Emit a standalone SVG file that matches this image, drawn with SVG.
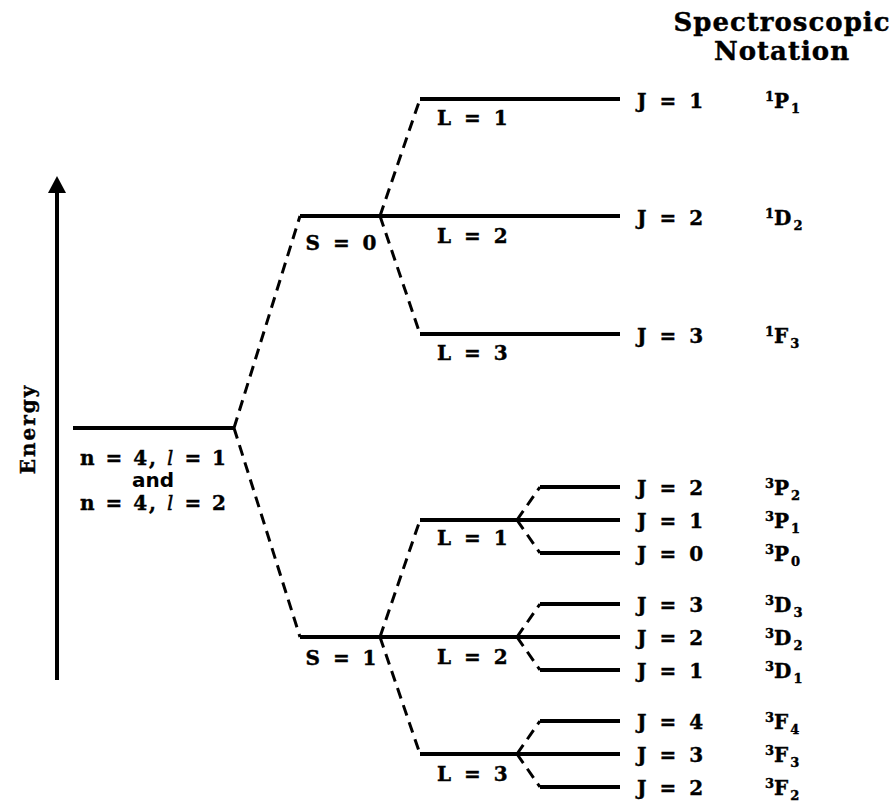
<svg xmlns="http://www.w3.org/2000/svg" width="896" height="802" viewBox="0 0 896 802">
  <style>
    .lvl { stroke: #000; stroke-width: 4; fill: none; }
    .dash { stroke: #000; stroke-width: 3; fill: none; stroke-dasharray: 11 7; }
    .t { font-family: "DejaVu Serif", "Liberation Serif", serif; font-weight: bold; font-size: 20px; letter-spacing: 2px; word-spacing: 2px; fill: #000; stroke: #000; stroke-width: 0.4; }
    .s { font-family: "DejaVu Sans", "Liberation Sans", sans-serif; font-weight: bold; font-size: 20px; fill: #000; }
    .hd { font-size: 26px; letter-spacing: 1px; }
    .cfg { word-spacing: 0; }
    .sub { font-size: 13px; letter-spacing: 0; }
  </style>

  <rect width="896" height="802" fill="#fff"/>

  <!-- energy axis -->
  <g id="energy-axis">
    <line x1="57" y1="680" x2="57" y2="190" stroke="#000" stroke-width="4"/>
    <path d="M48,193 L57,176 L66,193 Z" fill="#000"/>
    <text class="t" transform="translate(35,429) rotate(-90)" text-anchor="middle" font-size="24px">Energy</text>
  </g>

  <!-- header -->
  <g id="header">
    <text class="t hd" x="782" y="31" text-anchor="middle">Spectroscopic</text>
    <text class="t hd" x="782" y="60" text-anchor="middle">Notation</text>
  </g>

  <!-- connectors -->
  <g id="connectors">
    <path class="dash" d="M234,428 L300,216 M234,428 L300,637"/>
    <path class="dash" d="M380,216 L420,99 M380,216 L420,334"/>
    <path class="dash" d="M380,637 L420,520 M380,637 L420,754"/>
    <path class="dash" d="M517,520 L540,487 M517,520 L540,553"/>
    <path class="dash" d="M517,637 L540,604 M517,637 L540,670"/>
    <path class="dash" d="M517,754 L540,721 M517,754 L540,787"/>
  </g>

  <!-- configuration level -->
  <g id="config">
    <line class="lvl" x1="73" y1="428" x2="234" y2="428"/>
    <text class="t cfg" x="154" y="465" text-anchor="middle">n = 4, <tspan font-style="italic" font-weight="normal">l</tspan> = 1</text>
    <text class="s" x="153" y="487" text-anchor="middle">and</text>
    <text class="t cfg" x="154" y="510" text-anchor="middle">n = 4, <tspan font-style="italic" font-weight="normal">l</tspan> = 2</text>
  </g>

  <!-- S = 0 branch -->
  <g id="s0">
    <line class="lvl" x1="300" y1="216" x2="380" y2="216"/>
    <text class="t" x="342" y="250" text-anchor="middle">S = 0</text>
  </g>
  <g id="s0-l1">
    <line class="lvl" x1="420" y1="99" x2="620" y2="99"/>
    <text class="t" x="437" y="125">L = 1</text>
    <text class="t" x="637" y="108">J = 1</text>
    <text class="t" x="765" y="108"><tspan class="sub" dy="-7">1</tspan><tspan dy="7">P</tspan><tspan class="sub" dy="5">1</tspan></text>
  </g>
  <g id="s0-l2">
    <line class="lvl" x1="380" y1="216" x2="620" y2="216"/>
    <text class="t" x="437" y="243">L = 2</text>
    <text class="t" x="637" y="225">J = 2</text>
    <text class="t" x="765" y="225"><tspan class="sub" dy="-7">1</tspan><tspan dy="7">D</tspan><tspan class="sub" dy="5">2</tspan></text>
  </g>
  <g id="s0-l3">
    <line class="lvl" x1="420" y1="334" x2="620" y2="334"/>
    <text class="t" x="437" y="360">L = 3</text>
    <text class="t" x="637" y="343">J = 3</text>
    <text class="t" x="765" y="343"><tspan class="sub" dy="-7">1</tspan><tspan dy="7">F</tspan><tspan class="sub" dy="5">3</tspan></text>
  </g>

  <!-- S = 1 branch -->
  <g id="s1">
    <line class="lvl" x1="300" y1="637" x2="380" y2="637"/>
    <text class="t" x="342" y="665" text-anchor="middle">S = 1</text>
  </g>
  <g id="s1-l1">
    <line class="lvl" x1="420" y1="520" x2="517" y2="520"/>
    <text class="t" x="437" y="545">L = 1</text>
  </g>
  <g id="s1-l2">
    <line class="lvl" x1="380" y1="637" x2="517" y2="637"/>
    <text class="t" x="437" y="664">L = 2</text>
  </g>
  <g id="s1-l3">
    <line class="lvl" x1="420" y1="754" x2="517" y2="754"/>
    <text class="t" x="437" y="781">L = 3</text>
  </g>

  <!-- J levels of S = 1 -->
  <g id="p2">
    <line class="lvl" x1="540" y1="487" x2="620" y2="487"/>
    <text class="t" x="637" y="495">J = 2</text>
    <text class="t" x="765" y="495"><tspan class="sub" dy="-7">3</tspan><tspan dy="7">P</tspan><tspan class="sub" dy="5">2</tspan></text>
  </g>
  <g id="p1">
    <line class="lvl" x1="517" y1="520" x2="620" y2="520"/>
    <text class="t" x="637" y="528">J = 1</text>
    <text class="t" x="765" y="528"><tspan class="sub" dy="-7">3</tspan><tspan dy="7">P</tspan><tspan class="sub" dy="5">1</tspan></text>
  </g>
  <g id="p0">
    <line class="lvl" x1="540" y1="553" x2="620" y2="553"/>
    <text class="t" x="637" y="561">J = 0</text>
    <text class="t" x="765" y="561"><tspan class="sub" dy="-7">3</tspan><tspan dy="7">P</tspan><tspan class="sub" dy="5">0</tspan></text>
  </g>
  <g id="d3">
    <line class="lvl" x1="540" y1="604" x2="620" y2="604"/>
    <text class="t" x="637" y="612">J = 3</text>
    <text class="t" x="765" y="612"><tspan class="sub" dy="-7">3</tspan><tspan dy="7">D</tspan><tspan class="sub" dy="5">3</tspan></text>
  </g>
  <g id="d2">
    <line class="lvl" x1="517" y1="637" x2="620" y2="637"/>
    <text class="t" x="637" y="645">J = 2</text>
    <text class="t" x="765" y="645"><tspan class="sub" dy="-7">3</tspan><tspan dy="7">D</tspan><tspan class="sub" dy="5">2</tspan></text>
  </g>
  <g id="d1">
    <line class="lvl" x1="540" y1="670" x2="620" y2="670"/>
    <text class="t" x="637" y="678">J = 1</text>
    <text class="t" x="765" y="678"><tspan class="sub" dy="-7">3</tspan><tspan dy="7">D</tspan><tspan class="sub" dy="5">1</tspan></text>
  </g>
  <g id="f4">
    <line class="lvl" x1="540" y1="721" x2="620" y2="721"/>
    <text class="t" x="637" y="729">J = 4</text>
    <text class="t" x="765" y="729"><tspan class="sub" dy="-7">3</tspan><tspan dy="7">F</tspan><tspan class="sub" dy="5">4</tspan></text>
  </g>
  <g id="f3">
    <line class="lvl" x1="517" y1="754" x2="620" y2="754"/>
    <text class="t" x="637" y="762">J = 3</text>
    <text class="t" x="765" y="762"><tspan class="sub" dy="-7">3</tspan><tspan dy="7">F</tspan><tspan class="sub" dy="5">3</tspan></text>
  </g>
  <g id="f2">
    <line class="lvl" x1="540" y1="787" x2="620" y2="787"/>
    <text class="t" x="637" y="795">J = 2</text>
    <text class="t" x="765" y="795"><tspan class="sub" dy="-7">3</tspan><tspan dy="7">F</tspan><tspan class="sub" dy="5">2</tspan></text>
  </g>
</svg>
